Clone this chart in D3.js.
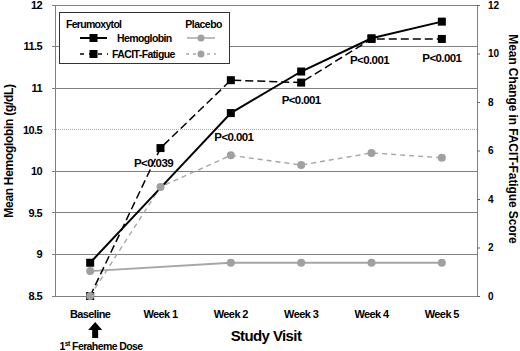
<!DOCTYPE html>
<html><head><meta charset="utf-8">
<script src="https://cdn.jsdelivr.net/npm/d3@7"></script>
<style>
body{margin:0;background:#fff;}
text{font-family:"Liberation Sans",Arial,sans-serif;font-weight:bold;}
</style></head>
<body><svg id="c" width="520" height="351"></svg>
<script>
const categories = ["Baseline","Week 1","Week 2","Week 3","Week 4","Week 5"];
const feruHgb = [8.9, 9.8, 10.7, 11.2, 11.6, 11.8];
const feruHgbMarker = [true, false, true, true, true, true];
const placHgb = [8.8, null, 8.9, 8.9, 8.9, 8.9];
const feruFacit = [0, 6.1, 8.9, 8.8, 10.6, 10.6];
const placFacit = [0, 4.5, 5.8, 5.4, 5.9, 5.7];
const pLabels = ["", "P<0.039", "P<0.001", "P<0.001", "P<0.001", "P<0.001"];
const leftTicks = [8.5, 9, 9.5, 10, 10.5, 11, 11.5, 12];
const rightTicks = [0, 2, 4, 6, 8, 10, 12];

const svg = d3.select("#c");
const L = 55, R = 477, T = 5, B = 296;
const x = d3.scalePoint().domain(categories).range([L, R]).padding(0.5);
const yL = d3.scaleLinear().domain([8.5, 12]).range([B, T]);
const yR = d3.scaleLinear().domain([0, 12]).range([B, T]);

// gridlines
svg.append("g").selectAll("line").data(leftTicks).join("line")
  .attr("x1", L - 3).attr("x2", R).attr("y1", d => yL(d)).attr("y2", d => yL(d))
  .attr("stroke", d => d === 10.5 ? "#a8a8a8" : "#808080")
  .attr("stroke-dasharray", d => d === 10.5 ? "1,1" : null)
  .attr("stroke-width", 1).attr("shape-rendering", "crispEdges");
// frame
svg.append("rect").attr("x", L).attr("y", T).attr("width", R - L).attr("height", B - T)
  .attr("fill", "none").attr("stroke", "#808080").attr("shape-rendering", "crispEdges");

// left axis labels
svg.append("g").selectAll("text").data(leftTicks).join("text")
  .attr("x", 42).attr("y", d => yL(d)).attr("dy", "0.35em").attr("text-anchor", "end")
  .attr("font-size", 11).attr("letter-spacing", "-0.6").text(d => d);
// right axis
const rg = svg.append("g").attr("transform", `translate(${R},0)`)
  .call(d3.axisRight(yR).tickValues(rightTicks).tickSize(3).tickPadding(8).tickFormat(d3.format("d")));
rg.select(".domain").attr("stroke", "#808080");
rg.selectAll(".tick line").attr("stroke", "#666");
rg.selectAll("text").attr("font-size", 10).attr("font-family", "Liberation Serif, serif").attr("font-weight", "bold").attr("fill", "#000");

// x labels
svg.append("g").selectAll("text").data(categories).join("text")
  .attr("x", d => x(d)).attr("y", 318).attr("text-anchor", "middle")
  .attr("font-size", 11).attr("letter-spacing", "-0.6").text(d => d);

// axis titles
svg.append("text").attr("transform", "translate(13,151) rotate(-90)").attr("text-anchor", "middle")
  .attr("font-size", 12).attr("letter-spacing", "-0.3").text("Mean Hemoglobin (g/dL)");
svg.append("text").attr("transform", "translate(509,139) rotate(90)").attr("text-anchor", "middle")
  .attr("font-size", 12).attr("letter-spacing", "-0.1").text("Mean Change in FACIT-Fatigue Score");
svg.append("text").attr("x", 266).attr("y", 341).attr("text-anchor", "middle")
  .attr("font-size", 15).attr("letter-spacing", "-0.6").text("Study Visit");

// arrow + dose note
const ax = x(categories[0]) + 5;
svg.append("path").attr("d", `M${ax},322 L${ax+7},330 L${ax+3},330 L${ax+3},338 L${ax-3},338 L${ax-3},330 L${ax-7},330 Z`).attr("fill", "#000");
const dose = svg.append("text").attr("x", 101).attr("y", 350).attr("text-anchor", "middle")
  .attr("font-size", 10.5).attr("letter-spacing", "-0.6");
dose.append("tspan").text("1");
dose.append("tspan").attr("font-size", 7).attr("dy", -4).text("st");
dose.append("tspan").attr("dy", 4).text(" Feraheme Dose");

// lines
function series(vals) {
  return categories.map((c, i) => ({c, v: vals[i], i})).filter(d => d.v !== null);
}
const lineL = d3.line().x(d => x(d.c)).y(d => yL(d.v));
const lineR = d3.line().x(d => x(d.c)).y(d => yR(d.v));

svg.append("path").datum(series(placHgb)).attr("d", lineL).attr("fill", "none")
  .attr("stroke", "#a6a6a6").attr("stroke-width", 1.8);
svg.append("path").datum(series(placFacit)).attr("d", lineR).attr("fill", "none")
  .attr("stroke", "#a6a6a6").attr("stroke-width", 1.4).attr("stroke-dasharray", "5,4");
svg.append("path").datum(series(feruFacit)).attr("d", lineR).attr("fill", "none")
  .attr("stroke", "#000").attr("stroke-width", 1.5).attr("stroke-dasharray", "8,4");
svg.append("path").datum(series(feruHgb)).attr("d", lineL).attr("fill", "none")
  .attr("stroke", "#000").attr("stroke-width", 2);

// markers
const sq = 8;
svg.append("g").selectAll("rect").data(series(feruFacit)).join("rect")
  .attr("x", d => x(d.c) - sq/2).attr("y", d => yR(d.v) - sq/2).attr("width", sq).attr("height", sq).attr("fill", "#000");
svg.append("g").selectAll("rect").data(series(feruHgb).filter(d => feruHgbMarker[d.i])).join("rect")
  .attr("x", d => x(d.c) - sq/2).attr("y", d => yL(d.v) - sq/2).attr("width", sq).attr("height", sq).attr("fill", "#000");
svg.append("g").selectAll("circle").data(series(placHgb)).join("circle")
  .attr("cx", d => x(d.c)).attr("cy", d => yL(d.v)).attr("r", 4).attr("fill", "#a0a0a0");
svg.append("g").selectAll("circle").data(series(placFacit)).join("circle")
  .attr("cx", d => x(d.c)).attr("cy", d => yR(d.v)).attr("r", 4).attr("fill", "#a0a0a0");

// p labels (placed below the ferumoxytol FACIT point)
const pOff = [[0,0],[-7,19],[3,61],[0,21],[-2,25],[0,23]];
svg.append("g").selectAll("text").data(categories.map((c,i) => ({c, t: pLabels[i], i})).filter(d => d.t)).join("text")
  .attr("x", d => x(d.c) + pOff[d.i][0])
  .attr("y", d => yR(feruFacit[d.i]) + pOff[d.i][1])
  .attr("text-anchor", "middle").attr("font-size", 11.5).attr("letter-spacing", "-0.6").text(d => d.t);

// legend
const lg = svg.append("g");
lg.append("rect").attr("x", 59.5).attr("y", 12.5).attr("width", 170).attr("height", 51)
  .attr("fill", "#fff").attr("stroke", "#333").attr("stroke-width", 1);
lg.append("text").attr("x", 66).attr("y", 28).attr("font-size", 10.5).attr("letter-spacing", "-0.7").text("Ferumoxytol");
lg.append("text").attr("x", 222).attr("y", 28).attr("text-anchor", "end").attr("font-size", 10.5).attr("letter-spacing", "-0.5").text("Placebo");
lg.append("line").attr("x1", 80).attr("x2", 107).attr("y1", 38).attr("y2", 38).attr("stroke", "#000").attr("stroke-width", 2);
lg.append("rect").attr("x", 89.5).attr("y", 34).attr("width", sq).attr("height", sq).attr("fill", "#000");
lg.append("text").attr("x", 117).attr("y", 42).attr("font-size", 10.5).attr("letter-spacing", "-0.6").text("Hemoglobin");
lg.append("line").attr("x1", 187).attr("x2", 215).attr("y1", 38).attr("y2", 38).attr("stroke", "#a6a6a6").attr("stroke-width", 1.5);
lg.append("circle").attr("cx", 201).attr("cy", 38).attr("r", 3.5).attr("fill", "#a0a0a0");
lg.append("line").attr("x1", 80).attr("x2", 108).attr("y1", 54).attr("y2", 54).attr("stroke", "#000").attr("stroke-width", 1.5).attr("stroke-dasharray", "4,5");
lg.append("rect").attr("x", 89.5).attr("y", 50).attr("width", sq).attr("height", sq).attr("fill", "#000");
lg.append("text").attr("x", 112).attr("y", 58).attr("font-size", 10.5).attr("letter-spacing", "-0.6").text("FACIT-Fatigue");
lg.append("line").attr("x1", 186).attr("x2", 216).attr("y1", 54).attr("y2", 54).attr("stroke", "#a6a6a6").attr("stroke-width", 1.4).attr("stroke-dasharray", "3,4");
lg.append("circle").attr("cx", 201).attr("cy", 54).attr("r", 3.5).attr("fill", "#a0a0a0");
</script></body></html>
